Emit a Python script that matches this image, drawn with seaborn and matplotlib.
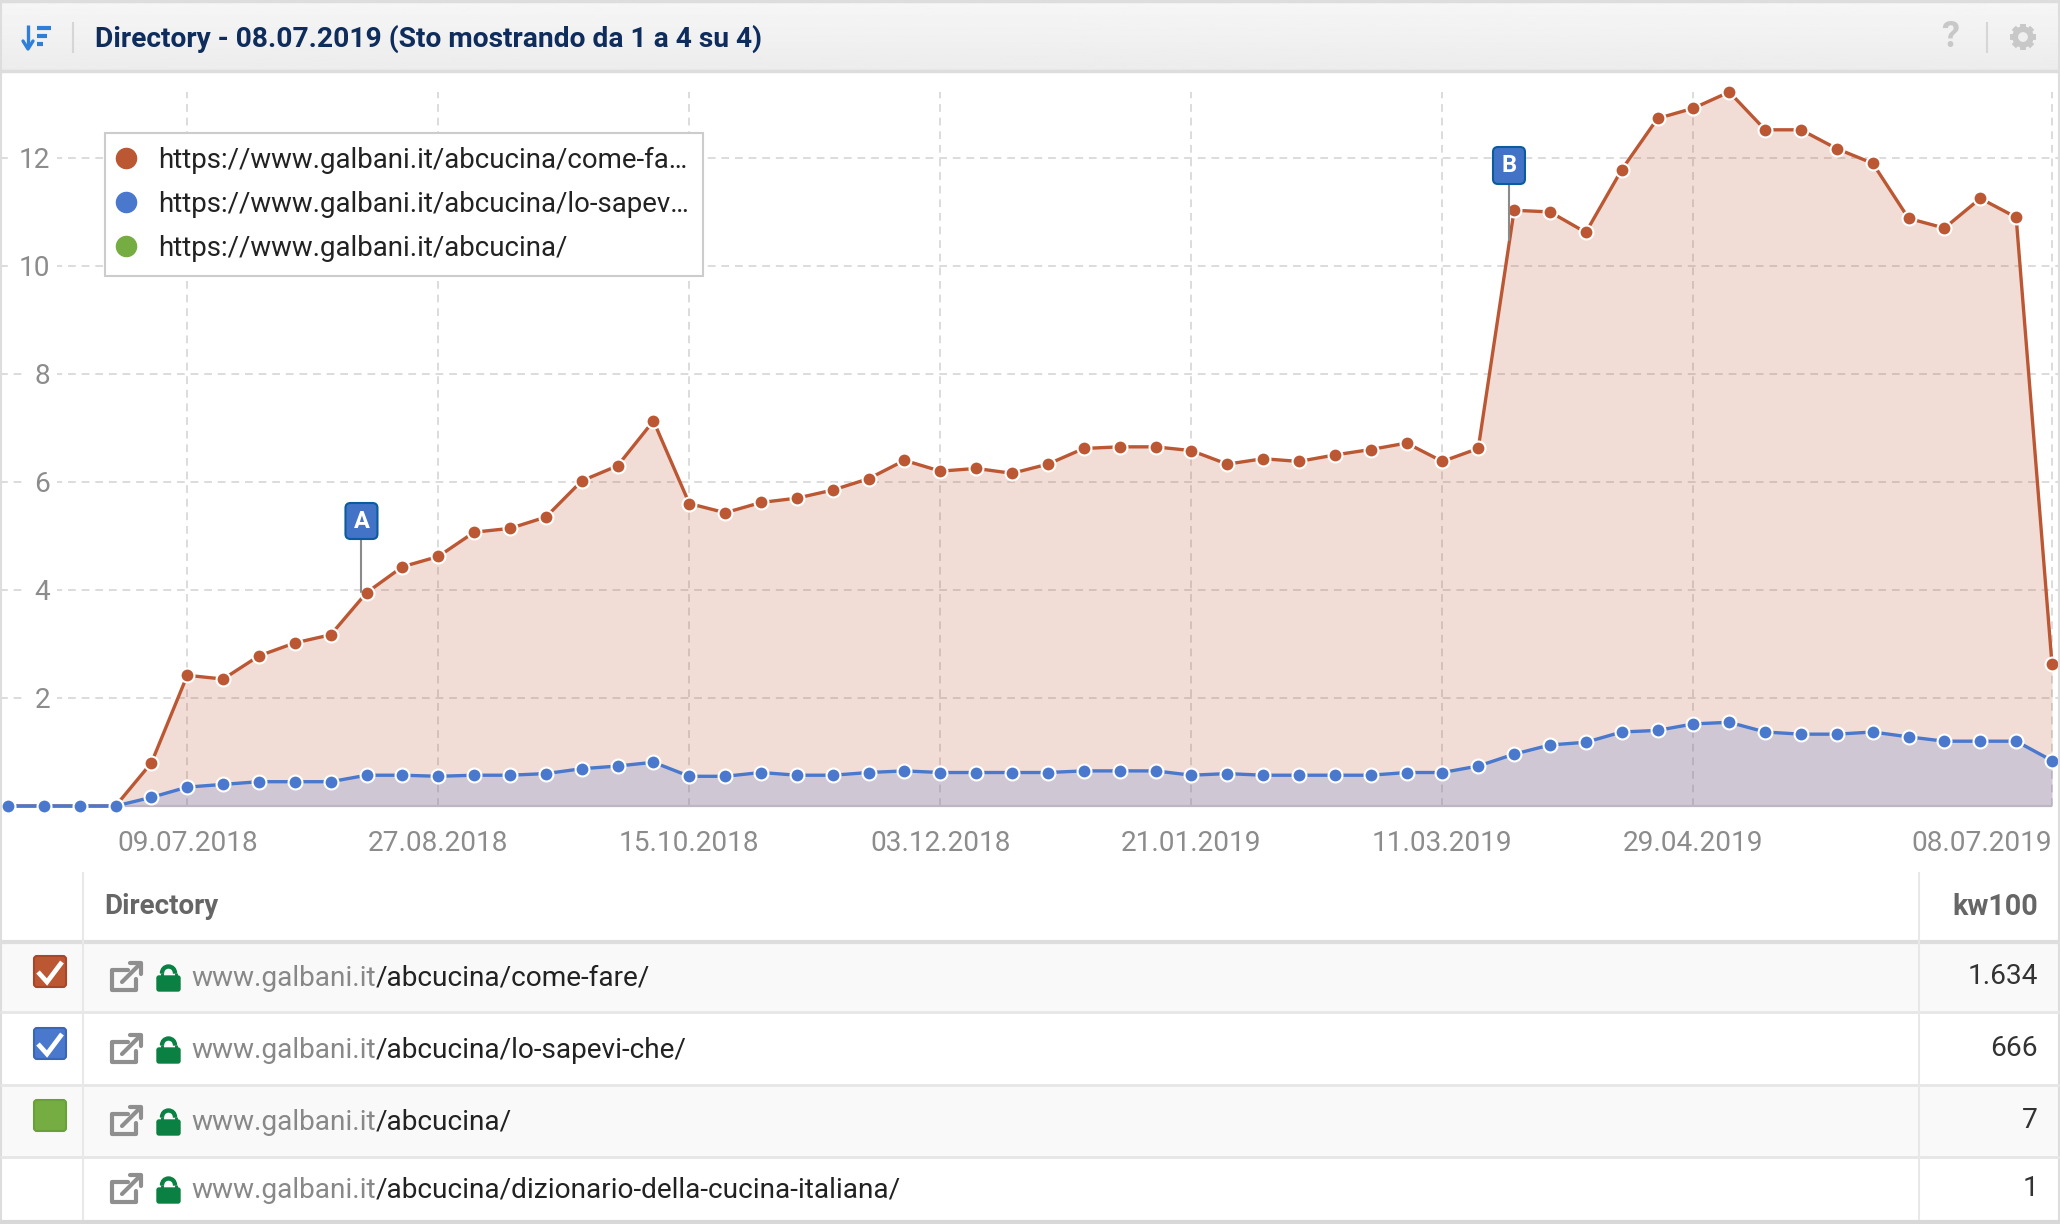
import matplotlib
matplotlib.use('Agg')
import matplotlib.pyplot as plt
import matplotlib.dates as mdates
from matplotlib.lines import Line2D
from matplotlib.patches import FancyBboxPatch, Rectangle, Circle, Wedge
import seaborn as sns
import pandas as pd
import numpy as np

# dati
first_week = '2018-06-04'
come_fare = [0, 0, 0, 0, 0.80, 2.42, 2.35, 2.78, 3.02, 3.17, 3.95, 4.43, 4.62, 5.07, 5.14,
             5.35, 6.02, 6.30, 7.13, 5.60, 5.43, 5.62, 5.70, 5.85, 6.06, 6.40, 6.20, 6.25,
             6.16, 6.33, 6.62, 6.65, 6.65, 6.58, 6.33, 6.43, 6.38, 6.50, 6.60, 6.72, 6.38,
             6.62, 11.03, 11.00, 10.62, 11.78, 12.73, 12.92, 13.22, 12.52, 12.52, 12.17,
             11.90, 10.88, 10.70, 11.25, 10.90, 2.62]
lo_sapevi = [0, 0, 0, 0, 0.16, 0.35, 0.40, 0.45, 0.45, 0.45, 0.57, 0.57, 0.55, 0.57, 0.57,
             0.60, 0.69, 0.74, 0.81, 0.55, 0.55, 0.62, 0.57, 0.57, 0.62, 0.65, 0.62, 0.62,
             0.62, 0.62, 0.65, 0.65, 0.65, 0.57, 0.60, 0.57, 0.57, 0.57, 0.57, 0.62, 0.62,
             0.74, 0.96, 1.13, 1.18, 1.37, 1.40, 1.52, 1.55, 1.37, 1.33, 1.33, 1.37, 1.28,
             1.20, 1.20, 1.20, 0.84]
x_ticks = ['09.07.2018', '27.08.2018', '15.10.2018', '03.12.2018', '21.01.2019',
           '11.03.2019', '29.04.2019', '08.07.2019']
y_ticks = [2, 4, 6, 8, 10, 12]
legend_labels = ['https://www.galbani.it/abcucina/come-fa…',
                 'https://www.galbani.it/abcucina/lo-sapev…',
                 'https://www.galbani.it/abcucina/']
flag_names = ['A', 'B']
flag_dates = ['2018-08-12', '2019-03-24']
row_paths = ['/abcucina/come-fare/', '/abcucina/lo-sapevi-che/', '/abcucina/',
             '/abcucina/dizionario-della-cucina-italiana/']
row_values = ['1.634', '666', '7', '1']
domain = 'www.galbani.it'
title = 'Directory - 08.07.2019 (Sto mostrando da 1 a 4 su 4)'

RED = '#bc5733'
BLUE = '#4a78cd'
GREEN = '#76ad42'
GRID = '#dcdcdc'
W, H = 2060, 1224

sns.set_style('white')
plt.rcParams['font.family'] = ['Roboto', 'DejaVu Sans']

dates = pd.date_range(first_week, periods=len(come_fare), freq='7D')
names = ['come-fare', 'lo-sapevi-che']
df = pd.DataFrame({
    'week': list(dates) * 2,
    'kw100': come_fare + lo_sapevi,
    'dir': [names[0]] * len(dates) + [names[1]] * len(dates),
})

fig = plt.figure(figsize=(W / 100, H / 100), dpi=100, facecolor='white')

# grafico: pixel 92-806 in verticale
ax = fig.add_axes([0, 1 - 806 / H, 1, (806 - 92) / H])
ax.set_axisbelow(True)
ax.fill_between(dates, come_fare, color=RED, alpha=0.2, linewidth=0)
ax.fill_between(dates, lo_sapevi, color=BLUE, alpha=0.2, linewidth=0)
sns.lineplot(data=df, x='week', y='kw100', hue='dir', palette=[RED, BLUE], ax=ax,
             marker='o', markersize=10, markeredgecolor='white', markeredgewidth=1.5,
             linewidth=2.4, legend=False, errorbar=None, estimator=None)
for line in ax.get_lines():
    line.set_clip_on(False)
ax.hlines(0, dates[3], dates[-1], color='#bdb6c2', linewidth=1.6, zorder=1.5, clip_on=False)

margin = pd.Timedelta(days=1.56)
ax.set_xlim(dates[0] - margin, dates[-1] + margin)
ax.set_ylim(0, 13.22)
tick_dates = pd.to_datetime(x_ticks, format='%d.%m.%Y')
ax.set_xticks(tick_dates)
ax.set_xticklabels(x_ticks)
ax.set_yticks(y_ticks)
ax.set_xlabel('')
ax.set_ylabel('')
ax.grid(True, color=GRID, linewidth=1.4, linestyle=(0, (4, 3)))
ax.tick_params(axis='x', length=0, pad=17, labelsize=20.2, labelcolor='#8c8c8c')
ax.tick_params(axis='y', length=0, pad=-36, labelsize=20.2, labelcolor='#8c8c8c')
ax.get_xticklabels()[-1].set_ha('right')
for lab in ax.get_yticklabels():
    lab.set_bbox(dict(facecolor='white', edgecolor='none', pad=5))
sns.despine(ax=ax, left=True, bottom=True)

handles = [Line2D([], [], linestyle='none', marker='o', markersize=14.5, color=c)
           for c in (RED, BLUE, GREEN)]
leg = ax.legend(handles, legend_labels, loc='upper left',
                bbox_to_anchor=(105 / W, 1 - 133 / H), bbox_transform=fig.transFigure,
                borderaxespad=0, fontsize=19.9, frameon=True, fancybox=False,
                framealpha=1, edgecolor='#cccccc', labelspacing=0.62, borderpad=0.5,
                handlelength=0.52, handletextpad=0.9, labelcolor='#222222')
leg.get_frame().set_linewidth(1.5)

# header e tabella, in coordinate pixel
ov = fig.add_axes([0, 0, 1, 1], zorder=10)
ov.set_xlim(0, W)
ov.set_ylim(H, 0)
ov.axis('off')
ov.patch.set_alpha(0)

grad = np.linspace(0.965, 0.925, 64).reshape(-1, 1)
ov.imshow(grad, extent=(0, W, 71, 0), aspect='auto', cmap='gray', vmin=0, vmax=1, zorder=1)
ov.set_xlim(0, W)
ov.set_ylim(H, 0)


def hline(y, x0=0, x1=W, color='#e4e4e4', lw=1.5):
    ov.plot([x0, x1], [y, y], color=color, lw=lw, solid_capstyle='butt', zorder=2)


def vline(x, y0, y1, color='#e8e8e8', lw=1.5):
    ov.plot([x, x], [y0, y1], color=color, lw=lw, solid_capstyle='butt', zorder=2)


hline(1, color='#dddddd', lw=2.5)
hline(71, color='#dddddd', lw=2.5)
vline(1, 0, H, color='#dddddd', lw=1.5)
vline(2058.5, 0, H, color='#dddddd', lw=1.5)
vline(73, 22, 53, color='#d6d6d6', lw=1.5)
vline(1987, 22, 53, color='#d6d6d6', lw=1.5)

# icona ordinamento
ov.plot([28, 28], [25, 46], color='#2f7ed8', lw=2.4, zorder=3, solid_capstyle='butt')
ov.plot([23, 28, 33], [41, 49, 41], color='#2f7ed8', lw=2.4, zorder=3)
for y0, x1 in [(27.5, 51), (35.5, 47), (43.5, 43)]:
    ov.plot([37, x1], [y0, y0], color='#2f7ed8', lw=3, zorder=3, solid_capstyle='butt')

ov.text(95, 38.5, title, fontsize=20.25, fontweight='bold', color='#0f2d5c', va='center', zorder=3)
ov.text(1950, 37, '?', fontsize=26, fontweight='bold', color='#c8c8c8', ha='center', va='center', zorder=3)

# ingranaggio
for ang in np.arange(0, 180, 45):
    dx, dy = 13 * np.cos(np.radians(ang)), 13 * np.sin(np.radians(ang))
    ov.plot([2023 - dx, 2023 + dx], [37 - dy, 37 + dy], color='#c8c8c8', lw=4.2,
            solid_capstyle='butt', zorder=3)
ov.add_patch(Circle((2023, 37), 10, color='#c8c8c8', zorder=3))
ov.add_patch(Circle((2023, 37), 4.2, color='#efefef', zorder=4))

# bandierine A e B
for name, d in zip(flag_names, flag_dates):
    xp = ax.transData.transform((mdates.date2num(pd.Timestamp(d)), 0))[0]
    if name == 'A':
        top, bottom, stem_end = 503, 539, 592
    else:
        top, bottom, stem_end = 147, 184, 240
    ov.plot([xp, xp], [bottom, stem_end], color='#8a8a8a', lw=1.5, zorder=3)
    ov.add_patch(FancyBboxPatch((xp - 14, top + 2), 28, bottom - top - 4,
                                boxstyle='round,pad=2,rounding_size=5',
                                facecolor='#4273c6', edgecolor='#0b5c9e', lw=1.5, zorder=4))
    ov.text(xp, (top + bottom) / 2 + 0.5, name, color='white', fontsize=17, fontweight='bold',
            ha='center', va='center', zorder=5)

# tabella
row_edges = [942, 1012, 1085, 1157, 1220]
text_y = [978, 1050, 1122, 1190]
num_y = [976, 1048, 1120, 1189]
box_top = [956, 1028, 1100]
box_colors = [(RED, '#a8462a'), (BLUE, '#3b66b5'), (GREEN, '#68a03a')]

for i in range(4):
    if i % 2 == 0:
        ov.add_patch(Rectangle((2, row_edges[i]), W - 4, row_edges[i + 1] - row_edges[i],
                               color='#f9f9f9', zorder=1))
    if i < 3:
        hline(row_edges[i + 1], color='#e6e6e6', lw=2)
hline(942, color='#dedede', lw=3)
hline(1222, color='#d8d8d8', lw=3)
vline(83, 872, 1220)
vline(1919, 872, 1220)

ov.text(104, 907, 'Directory', fontsize=20, fontweight='bold', color='#666666', va='center', zorder=3)
ov.text(2038, 907, 'kw100', fontsize=20.6, fontweight='bold', color='#666666', ha='right', va='center', zorder=3)

renderer = fig.canvas.get_renderer()
for i, (path, val) in enumerate(zip(row_paths, row_values)):
    yc = text_y[i]
    t = ov.text(191, yc, domain, fontsize=20.2, color='#888888', va='center', zorder=3)
    x_end = t.get_window_extent(renderer).x1
    ov.text(x_end, yc, path, fontsize=20.2, color='#222222', va='center', zorder=3)
    ov.text(2038, num_y[i], val, fontsize=20.2, color='#333333', ha='right', va='center', zorder=3)

    # link esterno
    ic = '#8f8f8f'
    ov.plot([128, 112, 112, 136, 136], [yc - 8, yc - 8, yc + 12, yc + 12, yc + 1], color=ic,
            lw=3, zorder=3, solid_joinstyle='round')
    ov.plot([122, 140], [yc + 4, yc - 14], color=ic, lw=3, zorder=3)
    ov.plot([130, 141, 141], [yc - 15, yc - 15, yc - 4], color=ic, lw=3, zorder=3)
    # lucchetto
    ov.add_patch(FancyBboxPatch((158, yc - 1), 21, 13, boxstyle='round,pad=1,rounding_size=2',
                                color='#0b8043', zorder=3))
    ov.add_patch(Wedge((168.5, yc - 5), 8, 180, 360, width=3, color='#0b8043', zorder=3))
    ov.plot([161.5, 161.5], [yc - 5, yc], color='#0b8043', lw=2.1, zorder=3, solid_capstyle='butt')
    ov.plot([175.5, 175.5], [yc - 5, yc], color='#0b8043', lw=2.1, zorder=3, solid_capstyle='butt')

    # checkbox
    if i < 3:
        fc, ec = box_colors[i]
        ov.add_patch(FancyBboxPatch((36, box_top[i] + 2), 28, 27,
                                    boxstyle='round,pad=2,rounding_size=3',
                                    facecolor=fc, edgecolor=ec, lw=1.5, zorder=3))
        if i < 2:
            b = box_top[i]
            ov.plot([38, 47, 62], [b + 16, b + 26, b + 6], color='white', lw=3.4, zorder=4,
                    solid_joinstyle='miter', solid_capstyle='butt')

fig.savefig('out.png', dpi=100)
